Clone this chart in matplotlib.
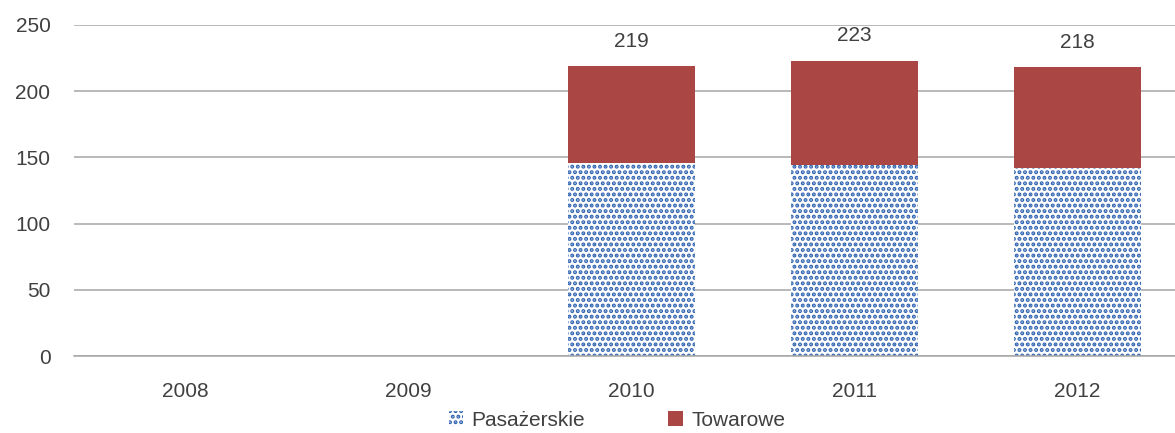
import matplotlib.pyplot as plt
import numpy as np

# data
years = ["2008", "2009", "2010", "2011", "2012"]
pasazerskie = [0, 0, 146, 144, 142]
towarowe = [0, 0, 73, 79, 76]
totals = [None, None, 219, 223, 218]

blue = "#2F63B0"
red = "#AA4744"
text_col = "#404040"

plt.rcParams["font.family"] = ["Liberation Sans", "DejaVu Sans"]
plt.rcParams["hatch.linewidth"] = 2.0
plt.rcParams["hatch.color"] = blue

fig = plt.figure(figsize=(11.75, 4.33), dpi=100)
ax = fig.add_axes([74 / 1175, 77 / 433, 1115 / 1175, 331 / 433])

x = np.arange(len(years))
w = 0.57
b1 = ax.bar(x, pasazerskie, w, color="white", edgecolor=blue, hatch="...",
            linewidth=0, label="Pasażerskie")
b2 = ax.bar(x, towarowe, w, bottom=pasazerskie, color=red, linewidth=0,
            label="Towarowe")

# totals above bars
for i, t in enumerate(totals):
    if t is not None:
        ax.annotate(str(t), (x[i], pasazerskie[i] + towarowe[i]), xytext=(0, 11),
                    textcoords="offset points", ha="center", va="bottom",
                    fontsize=15, color=text_col)

ax.set_xlim(-0.5, len(years) - 0.5)
ax.set_ylim(0, 250)
ax.set_yticks(range(0, 251, 50))
ax.set_xticks(x)
ax.set_xticklabels(years)
ax.yaxis.grid(True, color="#A6A6A6", linewidth=1.1)
ax.set_axisbelow(True)
for s in ["top", "right", "left"]:
    ax.spines[s].set_visible(False)
ax.spines["bottom"].set_color("#A6A6A6")
ax.spines["bottom"].set_linewidth(1.1)
ax.tick_params(axis="both", length=0, labelsize=15, colors=text_col)
ax.tick_params(axis="x", pad=19)
ax.tick_params(axis="y", pad=17)

fig.legend(handles=[b1, b2], loc="center", bbox_to_anchor=(617 / 1175, 1 - 420 / 433),
           ncol=2, frameon=False, fontsize=15, handlelength=0.7, handleheight=0.7,
           columnspacing=4.0, handletextpad=0.4, labelcolor=text_col)

fig.savefig("out.png", dpi=100)
